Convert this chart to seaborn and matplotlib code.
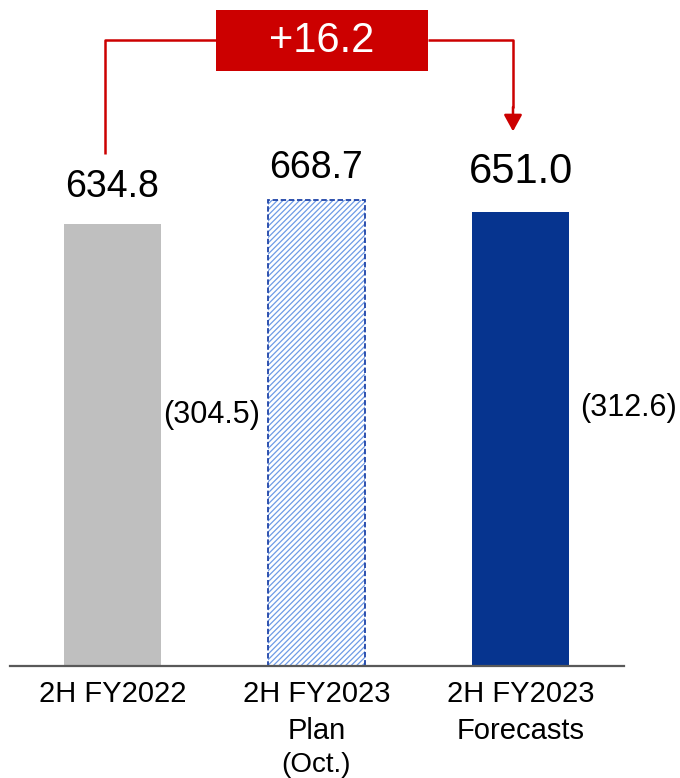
import pandas as pd
import matplotlib
matplotlib.use('Agg')
import matplotlib.pyplot as plt
import seaborn as sns

sns.set_style('white')
plt.rcParams['font.family'] = ['Liberation Sans', 'DejaVu Sans']
plt.rcParams['text.color'] = 'black'
plt.rcParams['hatch.linewidth'] = 0.9

categories = ['2H FY2022', '2H FY2023\nPlan', '2H FY2023\nForecasts']
values = [634.8, 668.7, 651.0]
value_labels = ['634.8', '668.7', '651.0']
sub_labels = ['(304.5)', '(312.6)']
diff_label = '+16.2'

df = pd.DataFrame({'cat': categories, 'val': values})

fig = plt.figure(figsize=(6.8, 7.78), dpi=100)
ax = fig.add_axes([10 / 680, 112 / 778, 614 / 680, 666 / 778])

bar_w = 0.475
sns.barplot(data=df, x='cat', y='val', width=bar_w, ax=ax, color='#BFBFBF')

bars = ax.patches
bars[0].set_facecolor('#BFBFBF')
bars[0].set_linewidth(0)
bars[1].set_facecolor('white')
bars[1].set_edgecolor('#6E9BE6')
bars[1].set_hatch('//////')
bars[1].set_linewidth(0)
bars[2].set_facecolor('#06348F')
bars[2].set_linewidth(0)
# dashed outline for the plan bar
ax.bar(1, values[1], width=bar_w, fill=False, edgecolor='#1F44A8',
       linestyle=(0, (3, 1.5)), linewidth=1.3)

ax.set_xlim(-0.502, 2.507)
ax.set_ylim(0, 955.5)

# value labels above bars
sizes = [27, 27, 30]
gaps = [27, 22, 29]
for i, (v, lab) in enumerate(zip(values, value_labels)):
    ax.annotate(lab, (i, v), xytext=(0, gaps[i]), textcoords='offset pixels',
                ha='center', va='baseline', fontsize=sizes[i], color='black')

# subtotal labels
ax.text(0.488, 360, sub_labels[0], ha='center', va='center', fontsize=22,
        color='black')
ax.text(2.527, 370, sub_labels[1], ha='center', va='center', fontsize=22,
        color='black', clip_on=False)

# difference connector
red = '#CC0000'
y_line = 898
ax.plot([-0.037, -0.037, 0.507], [734, y_line, y_line], color=red, lw=1.8,
        clip_on=False, solid_capstyle='butt')
ax.plot([1.547, 1.963, 1.963], [y_line, y_line, 800], color=red, lw=1.8,
        clip_on=False, solid_capstyle='butt')
ax.annotate('', xy=(1.963, 767), xytext=(1.963, 802),
            arrowprops=dict(arrowstyle='-|>,head_length=1.0,head_width=0.55',
                            color=red, lw=1.8, shrinkA=0, shrinkB=0))
ax.add_patch(plt.Rectangle((0.507, 853.6), 1.04, 87.5, facecolor=red,
                           edgecolor='none', clip_on=False))
ax.text(1.027, 897, diff_label, ha='center', va='center', fontsize=30,
        color='white')

# axes styling
for s in ['top', 'right', 'left']:
    ax.spines[s].set_visible(False)
ax.spines['bottom'].set_color('#595959')
ax.spines['bottom'].set_linewidth(1.6)
ax.set_yticks([])
ax.set_xlabel('')
ax.set_ylabel('')
ax.tick_params(axis='x', length=0, pad=10, labelsize=21, labelcolor='black')
ax.set_xticks([0, 1, 2])
ax.set_xticklabels(categories, linespacing=1.4)
ax.text(1, -0.149, '(Oct.)', transform=ax.get_xaxis_transform(),
        ha='center', va='center', fontsize=20, color='black')

fig.savefig('out.png', dpi=100)
